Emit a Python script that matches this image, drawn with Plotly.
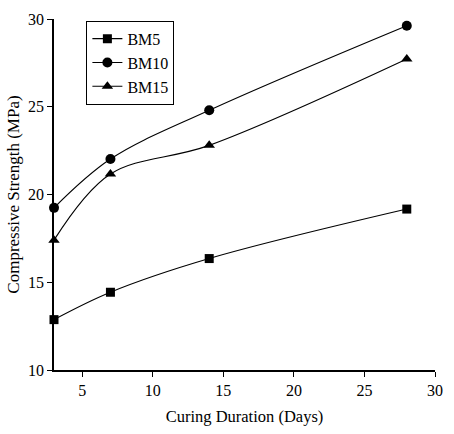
import plotly.graph_objects as go

days = [3, 7, 14, 28]
bm5 = [12.87, 14.43, 16.35, 19.17]
bm10 = [19.24, 22.02, 24.8, 29.62]
bm15 = [17.4, 21.17, 22.8, 27.72]

series = [("BM5", bm5, "square"), ("BM10", bm10, "circle"), ("BM15", bm15, "triangle-up")]

fig = go.Figure()
for name, vals, sym in series:
    fig.add_trace(go.Scatter(
        x=days, y=vals, name=name, mode="lines+markers",
        line=dict(color="black", width=1.1, shape="spline", smoothing=1),
        marker=dict(symbol=sym, size=10 if sym != "square" else 9, color="black"),
        cliponaxis=False,
    ))

font = "Liberation Serif"
fig.update_layout(
    width=454, height=434,
    margin=dict(l=54, r=11, t=14, b=60),
    plot_bgcolor="white", paper_bgcolor="white",
    font=dict(family=font, size=16, color="black"),
    showlegend=True,
    legend=dict(x=0.085, y=0.995, xanchor="left", yanchor="top",
                bordercolor="black", borderwidth=1, bgcolor="white",
                font=dict(size=16), tracegroupgap=0, itemwidth=30),
    xaxis=dict(range=[3, 30], tickvals=[5, 10, 15, 20, 25, 30],
               showgrid=False, zeroline=False, showline=True, linecolor="black",
               linewidth=1.5, ticks="outside", ticklen=5, tickcolor="black",
               tickfont=dict(size=16),
               title=dict(text="Curing Duration (Days)", standoff=12, font=dict(size=16.5))),
    yaxis=dict(range=[10, 30], tickvals=[10, 15, 20, 25, 30],
               showgrid=False, zeroline=False, showline=True, linecolor="black",
               linewidth=1.5, ticks="outside", ticklen=5, tickcolor="black",
               tickfont=dict(size=16),
               title=dict(text="Compressive Strength (MPa)", standoff=4, font=dict(size=17))),
)
fig.write_html("out.html")
